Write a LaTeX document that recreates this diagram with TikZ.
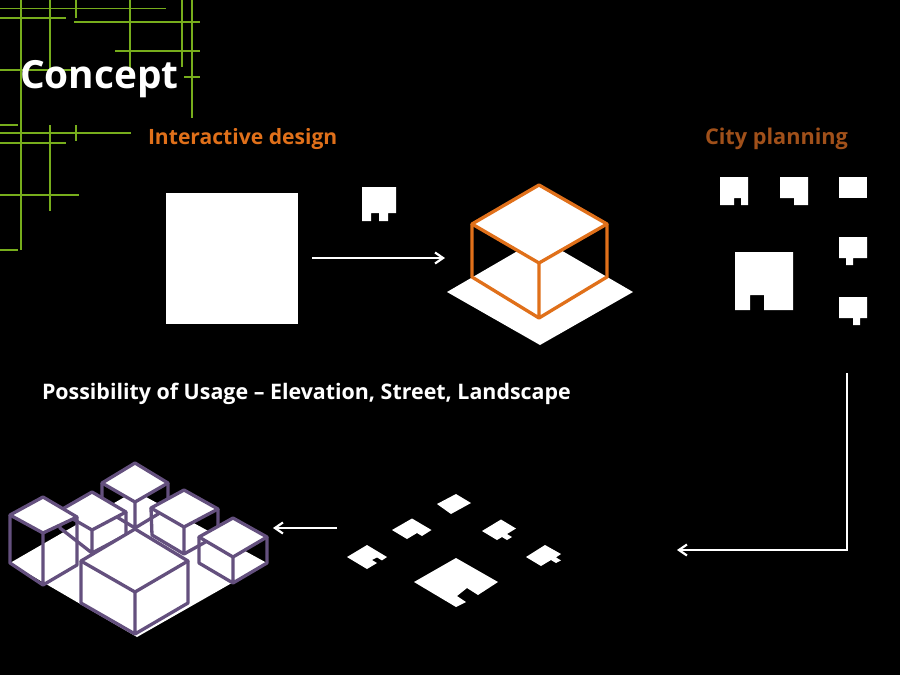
\documentclass[tikz,border=0pt]{standalone}
\usepackage{fontspec}
\setmainfont{Open Sans}
\usetikzlibrary{arrows.meta}
\definecolor{gridgreen}{HTML}{77AD1C}
\definecolor{orangeline}{HTML}{E0701A}
\definecolor{brownlabel}{HTML}{A0501A}
\definecolor{purpleline}{HTML}{64507E}
\tikzset{
  gridline/.style={draw=gridgreen,line width=1.3pt},
  solid white/.style={fill=white,draw=none},
  whiteline/.style={draw=white,line width=2.4pt,-{Straight Barb[length=8pt,width=11pt,line width=2.2pt]}},
  orangeedge/.style={draw=orangeline,line width=3.3pt,line join=round},
  purpleedge/.style={draw=purpleline,line width=3.3pt,line join=round},
  label/.style={anchor=base west,inner sep=0pt,outer sep=0pt,font=\bfseries},
}
\newcommand{\cubeframe}[7]{%
  \draw[purpleedge] (#4) -- (#5) -- (#6) -- (#7) -- (#2) (#3) -- (#6);
  \draw[purpleedge,fill=white] (#1) -- (#2) -- (#3) -- (#4) -- cycle;
}
\begin{document}
\begin{tikzpicture}[x=1pt,y=-1pt]
\useasboundingbox (0,0) rectangle (900,675);
\fill[black] (0,0) rectangle (900,675);
% green grid
\foreach \xa/\xb/\yy in {0/166/8.5,0/66/18,74/200/22,115/200/51,184/200/77,0/80/70,0/18/125,0/131/133,0/66/143,0/79/195,0/18/250}
  \draw[gridline] (\xa,\yy) -- (\xb,\yy);
\foreach \xx/\ya/\yb in {21/0/250,50/0/70,50/125/211,76/0/18,76/125/141,130/0/78,182/0/67,192/0/118}
  \draw[gridline] (\xx,\ya) -- (\xx,\yb);
% texts
\node[label,text=white,font=\bfseries\fontsize{38.8}{38.8}\selectfont] (concept) at (20,88.5) {Concept};
\node[label,text=orangeline,font=\bfseries\fontsize{21.1}{21.1}\selectfont] (interactive) at (148,144) {Interactive design};
\node[label,text=brownlabel,font=\bfseries\fontsize{21.7}{21.7}\selectfont] (city) at (705,144) {City planning};
\node[label,text=white,font=\bfseries\fontsize{21.4}{21.4}\selectfont] (usage) at (42,399) {Possibility of Usage – Elevation, Street, Landscape};
% site square and module
\fill[solid white] (166,193) rectangle (298,324);
\fill[solid white] (362,187) -- (396,187) -- (396,213) -- (388,213) -- (388,221) -- (379,221) -- (379,213) -- (371,213) -- (371,221) -- (362,221) -- cycle;
% arrow 1
\coordinate (a1s) at (312,258); \coordinate (a1e) at (445,258);
\draw[whiteline] (a1s) -- (a1e);
% orange cube
\fill[solid white] (447,292) -- (540,238) -- (633,292) -- (540,345) -- cycle;
\coordinate (ot) at (539,185); \coordinate (or) at (607,224); \coordinate (ob) at (539,263); \coordinate (ol) at (472,224);
\coordinate (oll) at (472,277); \coordinate (obb) at (539,318); \coordinate (orr) at (607,277);
\draw[orangeedge] (ol) -- (oll) -- (obb) -- (orr) -- (or) (ob) -- (obb);
\draw[orangeedge,fill=white] (ot) -- (or) -- (ob) -- (ol) -- cycle;
% city planning shapes
\fill[solid white] (720,177) -- (748,177) -- (748,205) -- (741,205) -- (741,198) -- (734,198) -- (734,205) -- (720,205) -- cycle;
\fill[solid white] (780,177) -- (808,177) -- (808,205) -- (794,205) -- (794,198) -- (780,198) -- cycle;
\fill[solid white] (839,177) rectangle (867,198);
\fill[solid white] (839,237) -- (867,237) -- (867,258) -- (853,258) -- (853,265) -- (846,265) -- (846,258) -- (839,258) -- cycle;
\fill[solid white] (839,297) -- (867,297) -- (867,318) -- (860,318) -- (860,325) -- (853,325) -- (853,318) -- (839,318) -- cycle;
\fill[solid white] (735,252) -- (793,252) -- (793,310) -- (764,310) -- (764,295) -- (750,295) -- (750,310) -- (735,310) -- cycle;
% arrow 2
\coordinate (a2s) at (847,373); \coordinate (a2m) at (847,550); \coordinate (a2e) at (677,550);
\draw[whiteline] (a2s) -- (a2m) -- (a2e);
% isometric footprints
\fill[solid white] (456,494) -- (471,503) -- (451,514) -- (437,504) -- cycle;
\fill[solid white] (392,530) -- (412,518.5) -- (431.5,530) -- (422,536) -- (417,533) -- (407,539) -- cycle;
\fill[solid white] (482,531) -- (501,519.5) -- (516,528.5) -- (507,534) -- (512,537) -- (507,540) -- (502,537) -- (497,540) -- cycle;
\fill[solid white] (347,557) -- (367,545) -- (387,557) -- (382,560.4) -- (377,557.4) -- (372,560) -- (377,563) -- (367,569) -- cycle;
\fill[solid white] (526,557) -- (545,545) -- (561,554) -- (556,557.4) -- (561,560.4) -- (556,563) -- (551,560) -- (541,566) -- cycle;
\fill[solid white] (456,558) -- (498,582) -- (478,595) -- (467,588) -- (457,596) -- (466,602) -- (456,607) -- (414,582) -- cycle;
% arrow 3
\coordinate (a3s) at (337,528); \coordinate (a3e) at (273,528);
\draw[whiteline] (a3s) -- (a3e);
% purple group
\fill[solid white] (10,563) -- (135,491) -- (267,563) -- (137,637) -- cycle;
\cubeframe{135,463}{168,483}{135,502}{102,483}{102,508}{135,528}{168,508}
\cubeframe{92,492}{126,512}{92,530}{59,511}{60,528}{92,553}{126,535}
\cubeframe{184,490}{218,509}{184,527}{151,508}{152,535}{184,554}{218,535}
\cubeframe{43,497}{77,517}{43,533}{10,515}{10,563}{43,585}{77,565}
\cubeframe{233,518}{267,537}{233,557}{199,537}{199,563}{233,583}{267,563}
\cubeframe{135,529}{188,561}{135,592}{81,561}{81,603}{135,634}{188,603}
\end{tikzpicture}
\end{document}
